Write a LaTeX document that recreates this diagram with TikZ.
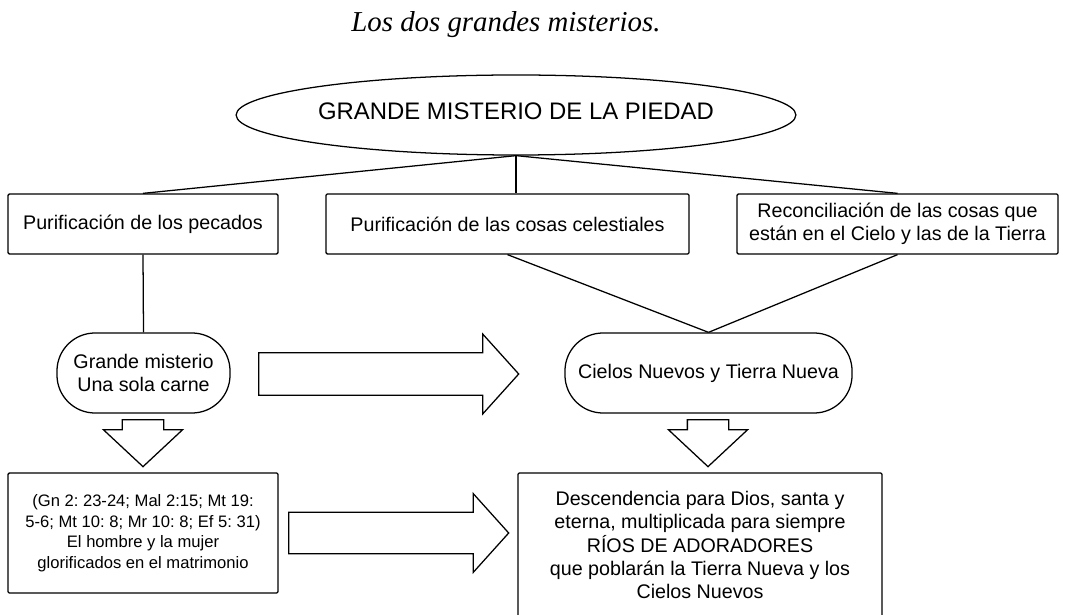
\documentclass[tikz,border=0pt]{standalone}
\usepackage{fontspec}
\setmainfont{Liberation Sans}
\newfontfamily\titlefont{Liberation Serif}
\usepackage{tikz}
\usetikzlibrary{shapes.geometric}
\usetikzlibrary{shapes.arrows}
\usetikzlibrary{positioning}
\newcommand{\boxfont}{\fontsize{14}{16.5}\selectfont}
\newcommand{\smallboxfont}{\fontsize{11.8}{14.6}\selectfont}
\newcommand{\topfont}{\fontsize{17}{20}\selectfont}
\frenchspacing

\begin{document}
\begin{tikzpicture}[x=0.025cm,y=-0.025cm,line width=0.9pt,
          box/.style={draw,rounded corners=1pt,align=center,font=\boxfont,inner sep=0pt},
          pill/.style={box,rounded corners=0.95cm,minimum height=2cm},
          bigarrow/.style={draw,single arrow,inner sep=0pt,minimum width=0pt,anchor=tail,
            single arrow tip angle=96,single arrow head extend=0.47cm}]
          \useasboundingbox (0,0) rectangle (1082,615);
          \node[font=\titlefont\itshape\fontsize{20.5}{23}\selectfont,anchor=base](tt) at (506,32){Los dos grandes misterios.};
          \node[draw,ellipse,inner sep=0pt,minimum width=11.2cm,minimum height=2cm,text depth=0.2cm,font=\topfont](gmp) at (516,115){GRANDE MISTERIO DE LA PIEDAD};
          \node[box,minimum width=6.75cm,minimum height=1.5cm](pec) at (143,224){Purificación de los pecados};
          \node[box,minimum width=9.075cm,minimum height=1.5cm](cel) at (507.5,224){Purificación de las cosas celestiales};
          \node[box,minimum width=8.025cm,minimum height=1.5cm](rec) at (897.5,224){Reconciliación de las cosas que\\están en el Cielo y las de la Tierra};
          \node[pill,minimum width=4.325cm](sola) at (143.5,373){Grande misterio\\Una sola carne};
          \node[pill,minimum width=7.175cm](nuevos) at (708.5,373){Cielos Nuevos y Tierra Nueva};
          \node[box,font=\smallboxfont,minimum width=6.75cm,minimum height=3cm](gen) at (143,533){(Gn 2: 23-24; Mal 2:15; Mt 19:\\5-6; Mt 10: 8; Mr 10: 8; Ef 5: 31)\\El hombre y la mujer\\glorificados en el matrimonio};
          \node[box,minimum width=9.1cm,minimum height=3.6cm](desc) at (700,545){Descendencia para Dios, santa y\\eterna, multiplicada para siempre\\RÍOS DE ADORADORES\\que poblarán la Tierra Nueva y los\\Cielos Nuevos};
          % ramas
          \draw(gmp.south)--(gmp.south|-cel.north);
          \draw(gmp.south)--(pec.north); \draw(gmp.south)--(rec.north);
          \draw(pec.south)--(sola.north);
          \draw(cel.south)--(nuevos.north); \draw(rec.south)--(nuevos.north);
          % flechas grandes
          \node[bigarrow,minimum height=6.5cm,text height=0.5125cm,text depth=0.5125cm](fa) at (258,374){};
          \node[bigarrow,minimum height=5.5cm,text height=0.5cm,text depth=0.5cm](fb) at (288,533){};
          \node[bigarrow,rotate=-90,minimum height=1.175cm,text height=0.5cm,text depth=0.5cm,single arrow tip angle=94](fc) at (143,419){};
          \node[bigarrow,rotate=-90,minimum height=1.175cm,text height=0.5cm,text depth=0.5cm,single arrow tip angle=94](fd) at (708,419){};
        \end{tikzpicture}
\end{document}
